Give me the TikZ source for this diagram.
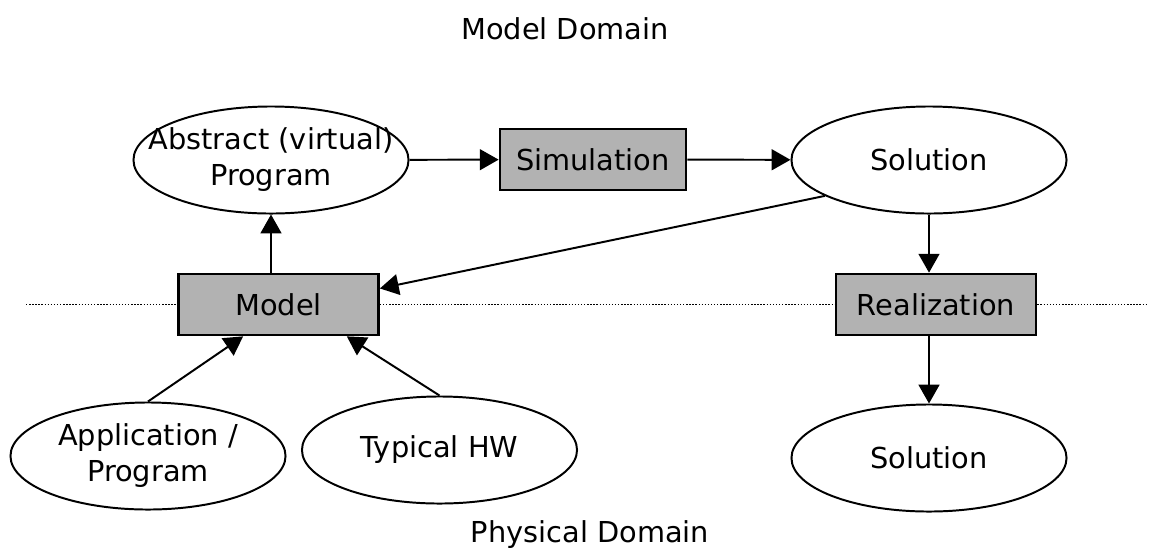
\documentclass[tikz,border=0pt]{standalone}
\usepackage{fontspec}
\setmainfont{DejaVu Sans}
\usetikzlibrary{shapes.geometric, arrows.meta, positioning, graphs}
\tikzset{
    every node/.style={font=\fontsize{20.5}{25.6}\selectfont},
    bloque/.style={rectangle, draw=black, line width=1.9pt, fill=black!30,
        minimum height=1.525cm, minimum width=5cm, inner sep=0pt},
    elipse/.style={ellipse, draw=black, line width=1.4pt,
        minimum width=6.875cm, minimum height=2.675cm, inner sep=0pt},
    frontera/.style={line width=1pt, dash pattern=on 1pt off 1.2pt},
    conexion/.style={coordinate}}

\begin{document}
\begin{tikzpicture}[x=0.025cm, y=-0.025cm, line width=1.4pt,
        >={Triangle[length=4.7mm, width=5.2mm]}]
    \useasboundingbox (0,0) rectangle (1149,549);

    \node (titulo) [anchor=base] at (565,39) {Model Domain};
    \node (fisico) [anchor=base] at (590,542) {Physical Domain};

    \node (abstracto) [elipse, label={[align=center]center:Abstract (virtual)\\Program}] at (271,160) {};
    \node (simulacion) [bloque, minimum width=4.65cm] at (593,159.5) {Simulation};
    \node (solucion) [elipse, label=center:Solution] at (929,160) {};

    \node (modelo) [bloque] at (278.5,304.5) {Model};
    \node (realizacion) [bloque] at (936,304.5) {Realization};

    \node (aplicacion) [elipse, label={[align=center]center:Application /\\Program}] at (148,456) {};
    \node (hw) [elipse, label=center:Typical HW] at (439.5,450) {};
    \node (solucion2) [elipse, label=center:Solution] at (929,458) {};

    % linea entre dominios
    \coordinate (izq) at (26,304.5);
    \coordinate (der) at (1147,304.5);
    \draw[frontera] (izq) -- (modelo.west) (modelo.east) -- (realizacion.west)
        (realizacion.east) -- (der);

    \graph{(abstracto) -> (simulacion) -> (solucion)};
    \draw[->] (abstracto |- modelo.north) -- (abstracto.south);
    \draw[->] (solucion.199) -- (modelo.9);
    \draw[->] (solucion.south) -- (solucion.south |- realizacion.north);
    \draw[->] (solucion2 |- realizacion.south) -- (solucion2.north);
    \draw[->] (aplicacion.north) -- (modelo.222);
    \draw[->] (hw.north) -- (modelo.-25);
\end{tikzpicture}
\end{document}
